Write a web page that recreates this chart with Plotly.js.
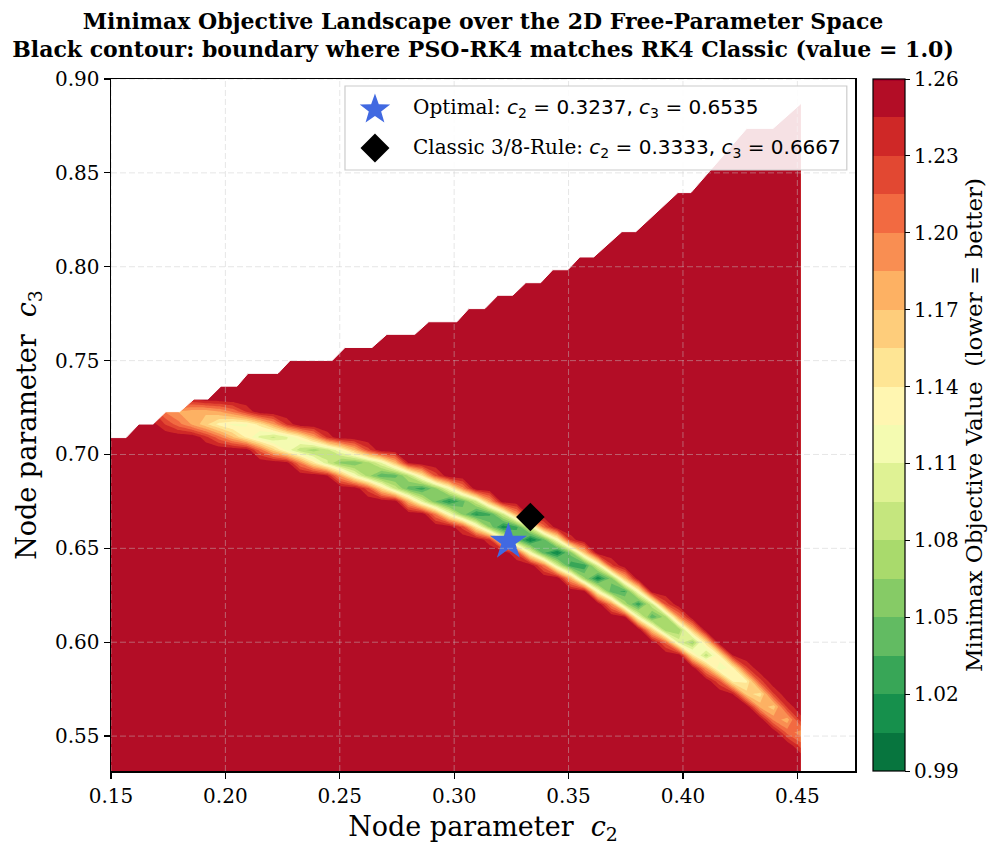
<!DOCTYPE html>
<html><head><meta charset="utf-8">
<script src="https://cdn.plot.ly/plotly-3.0.1.min.js"></script>
<style>html,body{margin:0;padding:0;background:#fff;}</style>
</head><body>
<div id="chart" style="width:991px;height:848px;"></div>
<script>
// ---------------- data ----------------
// valley of the objective (where the landscape is low), sampled along c2
const VALLEY_C2   = [0.150, 0.163, 0.175, 0.190, 0.210, 0.230, 0.250, 0.270, 0.290, 0.310, 0.330, 0.350, 0.370, 0.390, 0.410, 0.430, 0.4515];
const VALLEY_C3   = [0.730, 0.726, 0.722, 0.719, 0.713, 0.705, 0.697, 0.689, 0.679, 0.669, 0.657, 0.644, 0.629, 0.612, 0.594, 0.575, 0.551];
const VALLEY_MIN  = [1.300, 1.260, 1.190, 1.150, 1.100, 1.080, 1.050, 1.030, 1.020, 1.010, 1.000, 1.000, 1.010, 1.030, 1.080, 1.130, 1.190];
const VALLEY_HALF = [0.010, 0.010, 0.010, 0.011, 0.011, 0.011, 0.011, 0.012, 0.012, 0.012, 0.012, 0.012, 0.012, 0.012, 0.011, 0.011, 0.010];
// upper edge of the feasible region (staircase), outside it nothing is drawn
const BOUNDARY_C2 = [0.1500, 0.1566, 0.1622, 0.1684, 0.1740, 0.1800, 0.1863, 0.1924, 0.1981, 0.2051, 0.2099, 0.2230, 0.2283, 0.2467, 0.2523, 0.2641, 0.2706, 0.2828, 0.2889, 0.3012, 0.3064, 0.3134, 0.3191, 0.3256, 0.3313, 0.3378, 0.3431, 0.3497, 0.3549, 0.3610, 0.3733, 0.3794, 0.3978, 0.4035, 0.4279, 0.4394, 0.4515];
const BOUNDARY_C3 = [0.7090, 0.7090, 0.7162, 0.7162, 0.7228, 0.7228, 0.7295, 0.7295, 0.7364, 0.7364, 0.7432, 0.7432, 0.7501, 0.7501, 0.7570, 0.7570, 0.7640, 0.7640, 0.7707, 0.7707, 0.7777, 0.7777, 0.7848, 0.7848, 0.7915, 0.7915, 0.7984, 0.7984, 0.8052, 0.8052, 0.8187, 0.8187, 0.8395, 0.8395, 0.8737, 0.8737, 0.8868];
// grid extent of the evaluated landscape
const GRID_C2_RANGE = [0.15, 0.4515];
const GRID_C3_RANGE = [0.5314, 0.887];
const GRID_NX = 52, GRID_NY = 53;
// marked points
const OPT_C2 = [0.3237], OPT_C3 = [0.6535];
const CLS_C2 = [0.3333], CLS_C3 = [0.6667];
// axes / colour levels
const XTICKS = [0.15, 0.20, 0.25, 0.30, 0.35, 0.40, 0.45];
const YTICKS = [0.55, 0.60, 0.65, 0.70, 0.75, 0.80, 0.85, 0.90];
const CBTICKS = [0.99, 1.02, 1.05, 1.08, 1.11, 1.14, 1.17, 1.20, 1.23, 1.26];
const LEVEL_START = 0.99, LEVEL_END = 1.26, LEVEL_STEP = 0.015;
const X_RANGE = [0.15, 0.4752], Y_RANGE = [0.5314, 0.90];

// ---------------- build the grid the contour trace needs ----------------
function interp(xs, ys, x) {
  if (x <= xs[0]) return ys[0];
  for (let i = 1; i < xs.length; i++) {
    if (x <= xs[i]) { const t = (x - xs[i-1]) / (xs[i] - xs[i-1]); return ys[i-1] + t * (ys[i] - ys[i-1]); }
  }
  return ys[ys.length - 1];
}
const gx = [], gy = [];
for (let i = 0; i < GRID_NX; i++) gx.push(GRID_C2_RANGE[0] + i * (GRID_C2_RANGE[1] - GRID_C2_RANGE[0]) / (GRID_NX - 1));
for (let j = 0; j < GRID_NY; j++) gy.push(GRID_C3_RANGE[0] + j * (GRID_C3_RANGE[1] - GRID_C3_RANGE[0]) / (GRID_NY - 1));
const z = gy.map(c3 => gx.map(c2 => {
  const c = interp(VALLEY_C2, VALLEY_C3, c2);
  const m = interp(VALLEY_C2, VALLEY_MIN, c2);
  const h = interp(VALLEY_C2, VALLEY_HALF, c2);
  const v = m + Math.max(LEVEL_END - m, 0) * Math.pow(Math.abs(c3 - c) / h, 1.5);
  return Math.min(v, LEVEL_END - 0.0005);
}));

const RdYlGn_r = [
  [0.0, '#006837'], [0.1, '#1a9850'], [0.2, '#66bd63'], [0.3, '#a6d96a'], [0.4, '#d9ef8b'],
  [0.5, '#ffffbf'], [0.6, '#fee08b'], [0.7, '#fdae61'], [0.8, '#f46d43'], [0.9, '#d73027'], [1.0, '#a50026']
];

const SERIF = 'DejaVu Serif';
const traces = [
  {
    type: 'contour', x: gx, y: gy, z: z,
    autocontour: false, zmin: LEVEL_START, zmax: LEVEL_END,
    contours: { start: LEVEL_START, end: LEVEL_END, size: LEVEL_STEP, coloring: 'fill', showlines: false },
    line: { width: 0, smoothing: 0 },
    colorscale: RdYlGn_r,
    hoverinfo: 'skip', showlegend: false,
    colorbar: {
      x: 1.0242, xanchor: 'left', xpad: 0, y: 0.5, yanchor: 'middle', ypad: 0,
      len: 1, lenmode: 'fraction', thickness: 32,
      outlinewidth: 1.2, outlinecolor: '#000',
      ticks: 'outside', ticklen: 5, tickwidth: 1, tickcolor: '#000',
      tickvals: CBTICKS, ticktext: CBTICKS.map(v => v.toFixed(2)),
      tickfont: { family: SERIF, size: 20, color: '#000' },
      title: { text: 'Minimax Objective Value  (lower = better)', side: 'right', font: { family: SERIF, size: 23, color: '#000' } }
    }
  },
  {
    type: 'scatter', mode: 'lines',
    x: BOUNDARY_C2.concat([GRID_C2_RANGE[1], GRID_C2_RANGE[0]]),
    y: BOUNDARY_C3.concat([0.95, 0.95]),
    fill: 'toself', fillcolor: '#ffffff', line: { width: 1, color: '#ffffff' },
    hoverinfo: 'skip', showlegend: false
  },
  {
    type: 'scatter', mode: 'markers', x: OPT_C2, y: OPT_C3, showlegend: false, hoverinfo: 'skip',
    name: 'Optimal',
    marker: { symbol: 'star', size: 28, color: '#4169e1', line: { width: 0 } }
  },
  {
    type: 'scatter', mode: 'markers', x: CLS_C2, y: CLS_C3, showlegend: false, hoverinfo: 'skip',
    name: 'Classic 3/8-Rule',
    marker: { symbol: 'diamond', size: 22, color: '#000000', line: { width: 0 } }
  }
];

const gridStyle = { color: 'rgba(200,200,200,0.45)', width: 1, dash: '6px,3px' };
const shapes = [];
XTICKS.forEach(v => shapes.push({ type: 'line', layer: 'above', xref: 'x', yref: 'paper', x0: v, x1: v, y0: 0, y1: 1, line: gridStyle }));
YTICKS.forEach(v => shapes.push({ type: 'line', layer: 'above', xref: 'paper', yref: 'y', x0: 0, x1: 1, y0: v, y1: v, line: gridStyle }));

// ---- legend (drawn by hand so the keys can be as large as in the reference) ----
const PLOT_W = 744, PLOT_H = 692;          // plot area in pixels (for legend key geometry)
const LEG = { x0: 0.3145, x1: 0.989, y0: 0.8685, y1: 0.9899, keyX: 0.3548, textX: 0.4032, row1: 0.958, row2: 0.9003 };
shapes.push({ type: 'rect', layer: 'above', xref: 'paper', yref: 'paper', x0: LEG.x0, x1: LEG.x1, y0: LEG.y0, y1: LEG.y1,
  fillcolor: 'rgba(255,255,255,0.88)', line: { color: '#cccccc', width: 1.2 } });
function keyPath(cx, cy, radii, n, rot) {
  const pts = [];
  for (let k = 0; k < n; k++) {
    const a = rot + k * 2 * Math.PI / n, r = radii[k % radii.length];
    pts.push((cx + r * Math.cos(a) / PLOT_W).toFixed(5) + ',' + (cy + r * Math.sin(a) / PLOT_H).toFixed(5));
  }
  return 'M' + pts.join('L') + 'Z';
}
shapes.push({ type: 'path', layer: 'above', xref: 'paper', yref: 'paper',
  path: keyPath(LEG.keyX, LEG.row1 - 0.002, [16, 6.5], 10, Math.PI / 2), fillcolor: '#4169e1', line: { width: 0 } });
shapes.push({ type: 'path', layer: 'above', xref: 'paper', yref: 'paper',
  path: keyPath(LEG.keyX, LEG.row2, [14.5, 14.5], 4, Math.PI / 2), fillcolor: '#000000', line: { width: 0 } });

const mathPart = (a, b) => '<span style="font-family:DejaVu Sans"><i>c</i><sub>2</sub> = ' + a.toFixed(4) + ', <i>c</i><sub>3</sub> = ' + b.toFixed(4) + '</span>';
const annotations = [
  { xref: 'paper', yref: 'paper', x: LEG.textX, y: LEG.row1, text: 'Optimal: ' + mathPart(OPT_C2[0], OPT_C3[0]), showarrow: false,
    xanchor: 'left', yanchor: 'middle', font: { family: SERIF, size: 20, color: '#000' } },
  { xref: 'paper', yref: 'paper', x: LEG.textX, y: LEG.row2, text: 'Classic 3/8-Rule: ' + mathPart(CLS_C2[0], CLS_C3[0]), showarrow: false,
    xanchor: 'left', yanchor: 'middle', font: { family: SERIF, size: 20, color: '#000' } }
];

const layout = {
  width: 991, height: 848,
  margin: { l: 111, r: 136, t: 79, b: 77, autoexpand: false },
  paper_bgcolor: '#ffffff', plot_bgcolor: '#ffffff',
  font: { family: SERIF, color: '#000' },
  showlegend: false,
  title: {
    text: '<b>Minimax Objective Landscape over the 2D Free-Parameter Space</b><br><b>Black contour: boundary where PSO-RK4 matches RK4 Classic (value = 1.0)</b>',
    font: { family: SERIF, size: 22, color: '#000' },
    xref: 'paper', x: 0.5, xanchor: 'center',
    yref: 'container', y: 0.966, yanchor: 'middle'
  },
  xaxis: {
    range: X_RANGE, tickvals: XTICKS, ticktext: XTICKS.map(v => v.toFixed(2)),
    ticks: 'outside', ticklen: 6, tickwidth: 1.2, tickcolor: '#000',
    showline: true, mirror: true, linecolor: '#000', linewidth: 1.5,
    showgrid: false, zeroline: false,
    tickfont: { family: SERIF, size: 20, color: '#000' },
    title: { text: 'Node parameter  <i>c</i><sub>2</sub>', font: { family: SERIF, size: 27, color: '#000' }, standoff: 10 }
  },
  yaxis: {
    range: Y_RANGE, tickvals: YTICKS, ticktext: YTICKS.map(v => v.toFixed(2)),
    ticks: 'outside', ticklen: 6, tickwidth: 1.2, tickcolor: '#000',
    showline: true, mirror: true, linecolor: '#000', linewidth: 1.5,
    showgrid: false, zeroline: false,
    tickfont: { family: SERIF, size: 20, color: '#000' },
    title: { text: 'Node parameter  <i>c</i><sub>3</sub>', font: { family: SERIF, size: 27, color: '#000' }, standoff: 10 }
  },
  shapes: shapes,
  annotations: annotations
};

Plotly.newPlot('chart', traces, layout, { displayModeBar: false, staticPlot: true });
</script>
</body></html>
